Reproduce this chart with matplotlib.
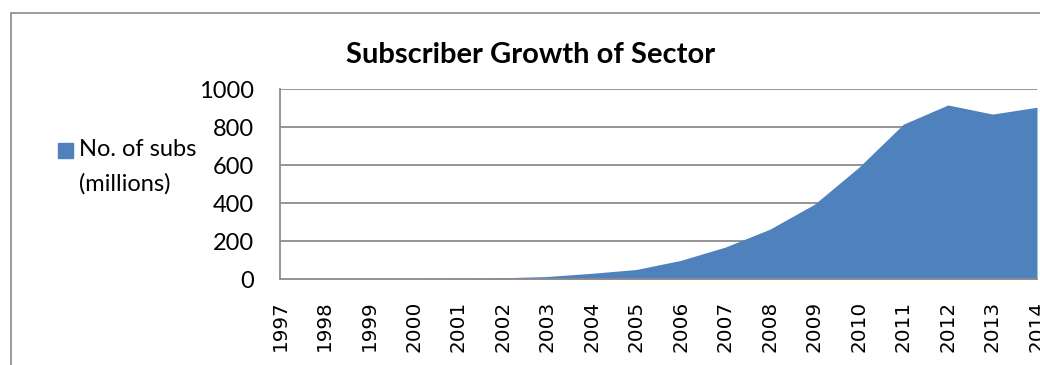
import matplotlib.pyplot as plt
from matplotlib.patches import Rectangle

# subscribers per year, millions
years = [1997, 1998, 1999, 2000, 2001, 2002, 2003, 2004, 2005,
         2006, 2007, 2008, 2009, 2010, 2011, 2012, 2013, 2014]
subs = [0.3, 0.9, 1.2, 1.9, 3.6, 6.5, 13, 30, 50,
        98, 168, 262, 393, 588, 815, 916, 868, 904]
y_ticks = [0, 200, 400, 600, 800, 1000]

W, H = 1040, 365
fig = plt.figure(figsize=(W / 100, H / 100), dpi=100)
fig.patch.set_facecolor('white')

# chart-area border (only top and left show)
fig.add_artist(Rectangle((11 / W, -0.2), 1.3, (H - 13) / H + 0.2,
                         transform=fig.transFigure, fill=False,
                         edgecolor='#8a8a8a', linewidth=1.2))

ax = fig.add_axes([280 / W, 86 / H, 757 / W, 190 / H])
x = list(range(len(years)))
ax.fill_between(x, subs, 0, color='#4f81bd', linewidth=0)
ax.set_xlim(0, len(years) - 1)
ax.set_ylim(0, 1000)

ax.set_yticks(y_ticks)
ax.set_yticklabels([str(v) for v in y_ticks], fontsize=17, family='Lato')
ax.set_xticks(x)
ax.set_xticklabels([str(y) for y in years], rotation=90, fontsize=14.4,
                   family='DejaVu Sans')
ax.tick_params(axis='y', length=0, pad=19)
ax.tick_params(axis='x', length=0, pad=15.5)

for v in y_ticks[1:]:
    ax.axhline(v, color='#8c8c8c', linewidth=1.3, zorder=0)
for s in ['top', 'right']:
    ax.spines[s].set_visible(False)
for s in ['left', 'bottom']:
    ax.spines[s].set_color('#8c8c8c')
    ax.spines[s].set_linewidth(1.3)
ax.set_axisbelow(True)

fig.text(531 / W, 1 - 55 / H, 'Subscriber Growth of Sector', ha='center',
         va='center', fontsize=21, fontweight='bold', family='Lato')

# legend
fig.add_artist(Rectangle((58 / W, 1 - 158 / H), 15 / W, 15 / H,
                         transform=fig.transFigure, color='#4f81bd'))
fig.text(79 / W, 1 - 150 / H, 'No. of subs', ha='left', va='center',
         fontsize=17, family='Lato')
fig.text(79 / W, 1 - 184 / H, '(millions)', ha='left', va='center',
         fontsize=17, family='Lato')

fig.savefig('out.png', dpi=100)
